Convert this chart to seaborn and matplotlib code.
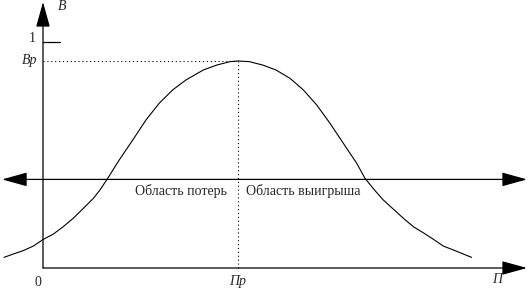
import matplotlib
matplotlib.use("Agg")
import matplotlib.pyplot as plt
import seaborn as sns
import pandas as pd

# Curve values (x in units of Пр, y in units of 1)
curve_x = [-0.200, -0.152, -0.101, -0.050, 0.002, 0.053, 0.104, 0.155, 0.207, 0.258,
           0.292, 0.332, 0.391, 0.460, 0.528, 0.596, 0.665, 0.733, 0.822, 0.891,
           0.959, 1.000, 1.058, 1.127, 1.195, 1.267, 1.335, 1.404, 1.472, 1.540,
           1.609, 1.651, 1.703, 1.745, 1.796, 1.848, 1.899, 1.950, 2.002, 2.053,
           2.104, 2.155, 2.198]
curve_y = [0.047, 0.062, 0.077, 0.097, 0.127, 0.150, 0.183, 0.220, 0.264, 0.308,
           0.345, 0.397, 0.478, 0.566, 0.655, 0.729, 0.788, 0.832, 0.876, 0.898,
           0.913, 0.916, 0.913, 0.898, 0.876, 0.839, 0.788, 0.721, 0.640, 0.552,
           0.463, 0.397, 0.342, 0.301, 0.261, 0.220, 0.183, 0.156, 0.127, 0.097,
           0.080, 0.062, 0.047]
peak_x = 1.0        # Пр
peak_y = 0.916      # Вр
threshold_y = 0.392 # horizontal dividing line
tick_one = 1.0
region_labels = ["Область потерь", "Область выигрыша"]
axis_labels = {"y": "В", "x": "П", "one": "1", "zero": "0", "pr": "Пр", "vr": "Вр"}

df = pd.DataFrame({"x": curve_x, "y": curve_y})

sns.set_theme(style="white")
plt.rcParams["font.family"] = ["Liberation Serif", "DejaVu Serif"]

fig = plt.figure(figsize=(5.29, 2.89), dpi=100)
ax = fig.add_axes([0, 0, 1, 1])
ax.set_xlim(-0.2205, 2.4923)
ax.set_ylim(-0.0929, 1.1858)
ax.set_axis_off()

sns.lineplot(data=df, x="x", y="y", ax=ax, color="black", lw=0.8, sort=False)

arrow = dict(arrowstyle="-|>,head_length=1.3,head_width=0.36", lw=0.9,
             color="black", shrinkA=0, shrinkB=0)
# y axis
ax.annotate("", xy=(0, 1.177), xytext=(0, 0), arrowprops=arrow)
# x axis
ax.annotate("", xy=(2.482, 0), xytext=(0, 0), arrowprops=arrow)
# dividing line with arrows on both ends
ax.annotate("", xy=(2.482, threshold_y), xytext=(-0.21, threshold_y),
            arrowprops=dict(arrowstyle="<|-|>,head_length=1.3,head_width=0.36",
                            lw=0.9, color="black", shrinkA=0, shrinkB=0))

# tick at 1
ax.plot([0, 0.087], [tick_one, tick_one], color="black", lw=0.9)
# dotted guide lines
ax.plot([0, peak_x], [peak_y, peak_y], color="black", lw=0.8, ls=(0, (1, 2.5)))
ax.plot([peak_x, peak_x], [0, peak_y], color="black", lw=0.8, ls=(0, (1, 2.5)))

fs = 10
ax.text(0.075, 1.155, axis_labels["y"], fontsize=fs, style="italic", ha="left", va="center")
ax.text(-0.036, tick_one + 0.015, axis_labels["one"], fontsize=fs, ha="right", va="center")
ax.text(-0.031, peak_y, axis_labels["vr"], fontsize=fs, style="italic", ha="right", va="center")
ax.text(-0.026, -0.066, axis_labels["zero"], fontsize=fs, ha="center", va="center")
ax.text(peak_x, -0.058, axis_labels["pr"], fontsize=fs, style="italic", ha="center", va="center")
ax.text(2.328, -0.053, axis_labels["x"], fontsize=fs, style="italic", ha="center", va="center")
ax.text(0.708, 0.341, region_labels[0], fontsize=fs, ha="center", va="center")
ax.text(1.336, 0.341, region_labels[1], fontsize=fs, ha="center", va="center")

fig.savefig("out.png", dpi=100)
